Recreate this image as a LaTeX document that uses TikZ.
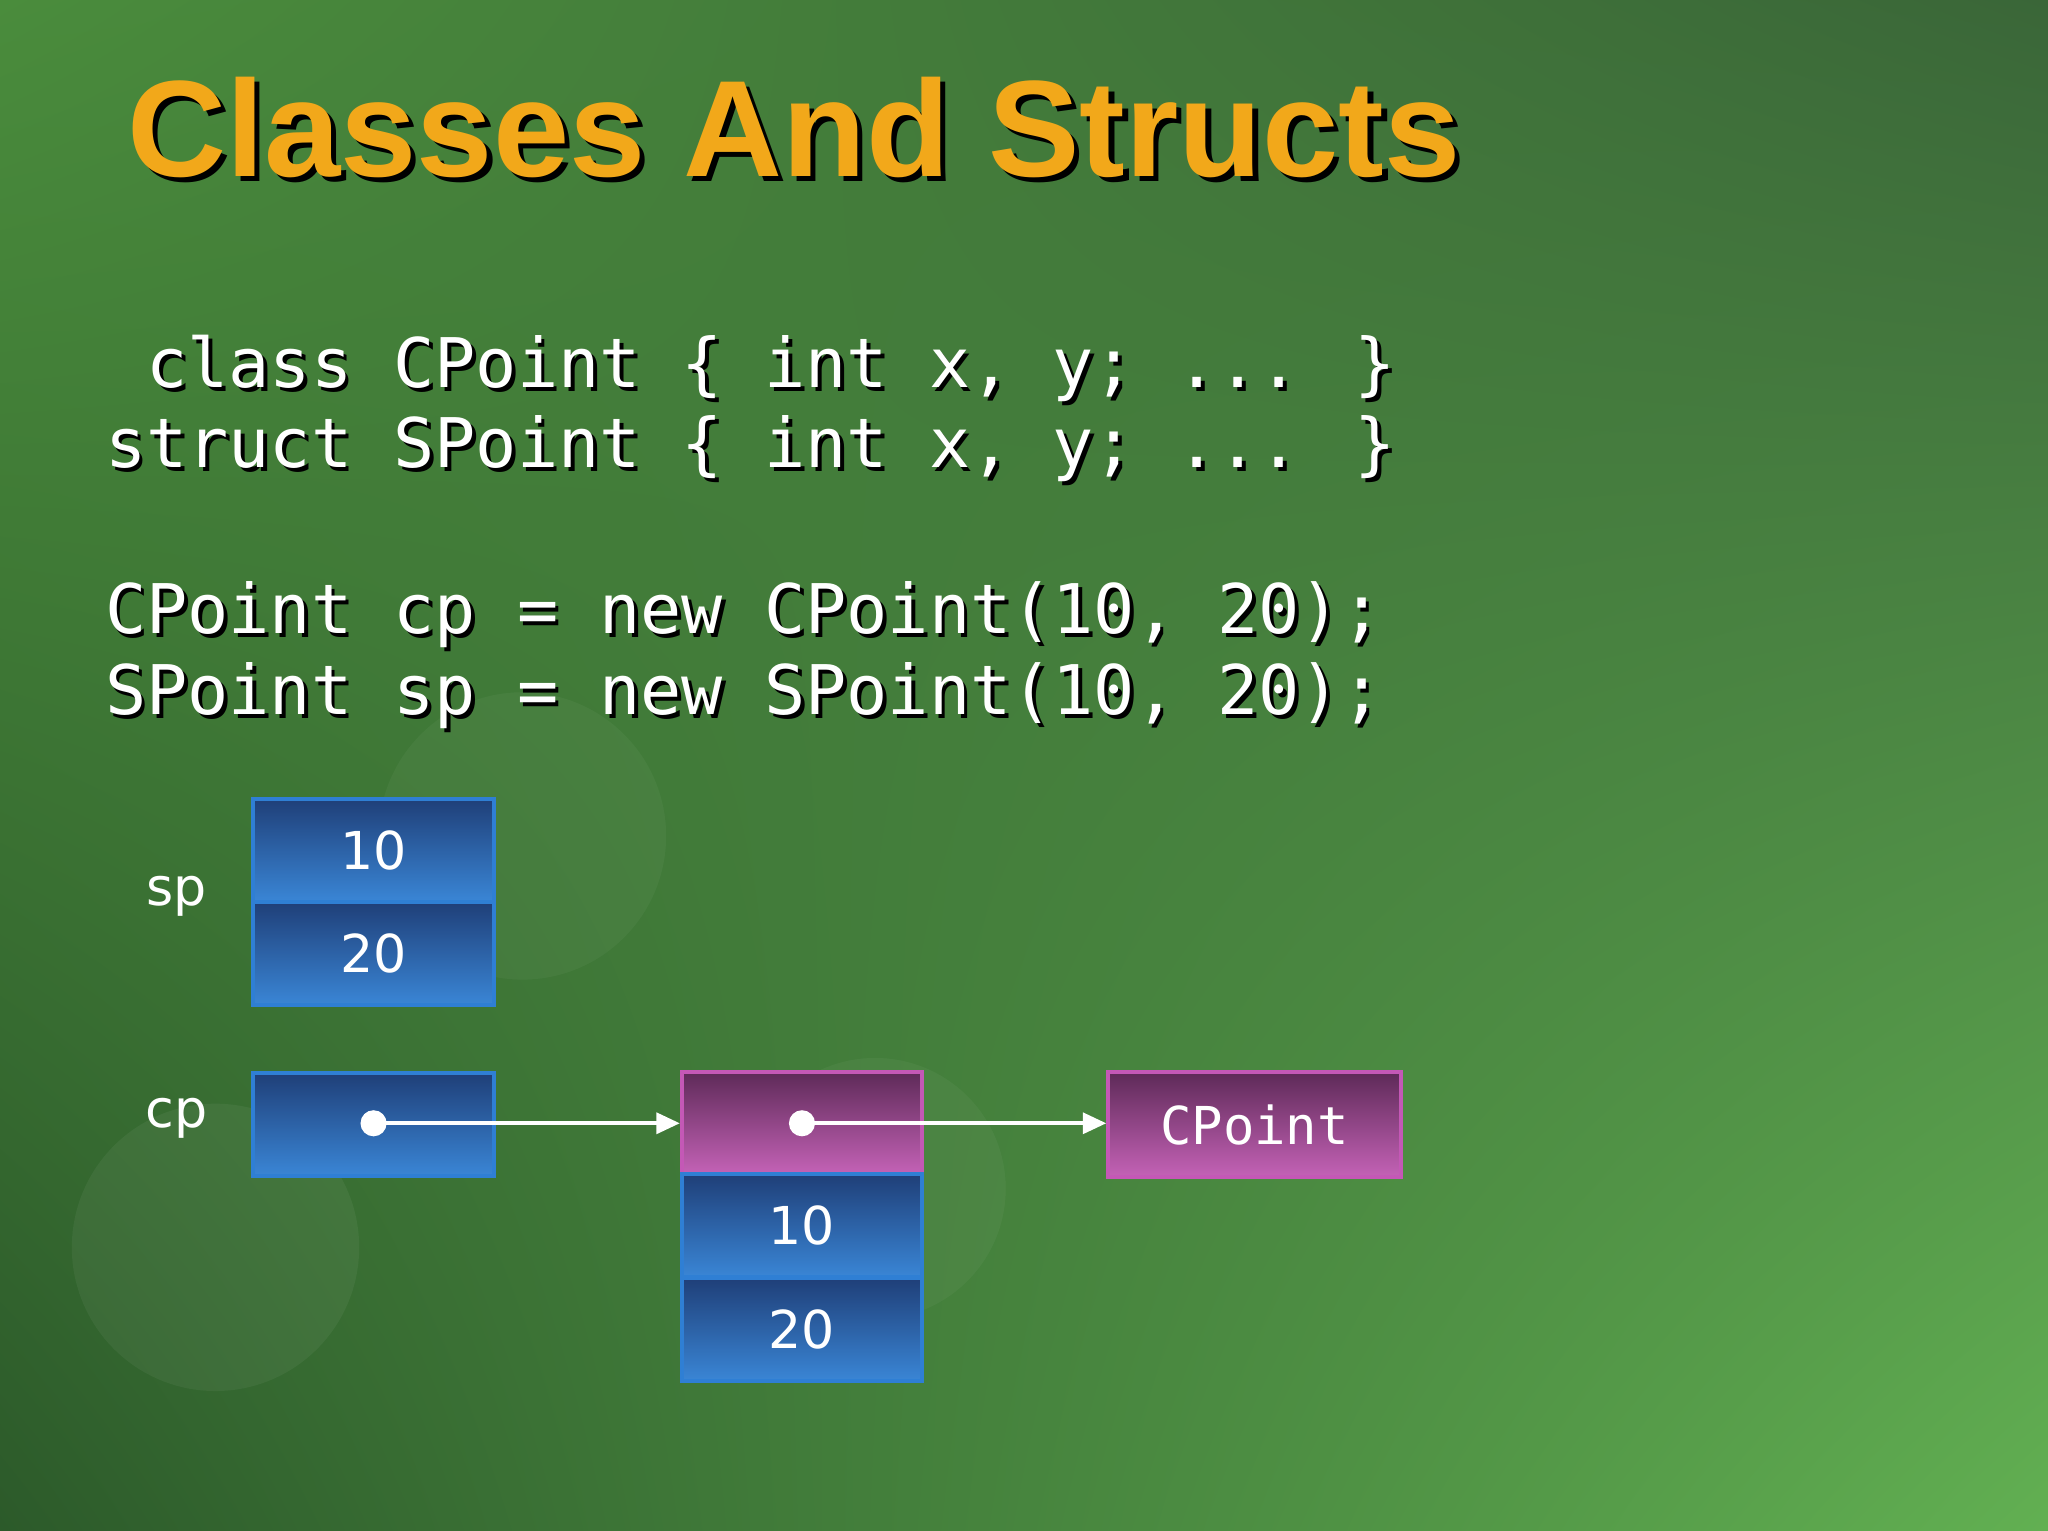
\documentclass[tikz,border=0pt]{standalone}
\usepackage{fontspec}
\setmainfont{Liberation Sans}
\newfontfamily\codefont{DejaVu Sans Mono}
\newfontfamily\numfont{DejaVu Sans}
\usetikzlibrary{arrows.meta,shadings}
\definecolor{bgA}{HTML}{4A8C3C}
\definecolor{bgB}{HTML}{3A6638}
\definecolor{bgD}{HTML}{2C5A2A}
\definecolor{bgC}{HTML}{62B052}
\definecolor{ttl}{HTML}{F2A81A}
\definecolor{bluetop}{HTML}{1F3F78}
\definecolor{bluebot}{HTML}{3A86D6}
\definecolor{blueedge}{HTML}{2F7FD4}
\definecolor{pinktop}{HTML}{5E2A58}
\definecolor{pinkbot}{HTML}{C462B6}
\definecolor{pinkedge}{HTML}{C458B6}
\tikzset{
 bluebox/.style={draw=blueedge,line width=1.5pt,top color=bluetop,bottom color=bluebot,minimum width=92pt,minimum height=39.5pt,inner sep=0pt,text=white,font=\numfont\fontsize{20}{20}\selectfont},
 pinkbox/.style={draw=pinkedge,line width=1.5pt,top color=pinktop,bottom color=pinkbot,minimum width=92pt,minimum height=39pt,inner sep=0pt,text=white,font=\codefont\fontsize{20}{20}\selectfont},
 codeline/.style={anchor=base west,inner sep=0pt,text=white,font=\codefont\fontsize{26.2}{26.2}\selectfont},
 codeshadow/.style={anchor=base west,inner sep=0pt,text=black,font=\codefont\fontsize{26.2}{26.2}\selectfont},
 lbl/.style={text=white,font=\numfont\fontsize{20}{20}\selectfont},
 ptr/.style={white,line width=1.5pt,-{Triangle[length=9pt,width=8pt]}},
 dot/.style={circle,fill=white,inner sep=0pt,minimum size=10pt}
}
\begin{document}
\begin{tikzpicture}[x=0.5pt,y=-0.5pt]
\useasboundingbox (0,0) rectangle (1568,1172);
\shade[upper left=bgA,upper right=bgB,lower left=bgD,lower right=bgC] (0,0) rectangle (1568,1172);
\fill[white,opacity=0.05] (165,955) circle (110);
\fill[white,opacity=0.04] (670,910) circle (100);
\fill[white,opacity=0.04] (400,640) circle (110);
% title
\node[anchor=base west,inner sep=0pt,text=black,font=\bfseries\fontsize{52.5}{52.5}\selectfont] (titleS) at (101,139) {Classes And Structs};
\node[anchor=base west,inner sep=0pt,text=ttl,font=\bfseries\fontsize{52.5}{52.5}\selectfont] (title) at (97,135) {Classes And Structs};
% code
\foreach \y/\t [count=\i] in {297/{\phantom{s}class CPoint \{ int x, y; ... \}},358/{struct SPoint \{ int x, y; ... \}},485/{CPoint cp = new CPoint(10, 20);},547/{SPoint sp = new SPoint(10, 20);}}{
 \node[codeshadow] (cs\i) at (83,\y+3) {\t};
 \node[codeline] (c\i) at (80,\y) {\t};
}
% sp
\node[lbl] (splbl) at (135,686) {sp};
\node[bluebox] (sp10) at (286,651) {10};
\node[bluebox] (sp20) at (286,730) {20};
% cp
\node[lbl] (cplbl) at (135,856) {cp};
\node[bluebox] (cpbox) at (286,861) {};
\node[dot] (d1) at (286,860) {};
\node[pinkbox] (obj) at (614,859.5) {};
\node[dot] (d2) at (614,860) {};
\node[bluebox] (o10) at (614,938.5) {10};
\node[bluebox] (o20) at (614,1018) {20};
\node[pinkbox,minimum width=112pt,minimum height=40pt] (cls) at (960.5,861) {CPoint};
\draw[ptr] (d1.center) -- (obj.west |- d1.center);
\draw[ptr] (d2.center) -- (cls.west |- d2.center);
\end{tikzpicture}
\end{document}
